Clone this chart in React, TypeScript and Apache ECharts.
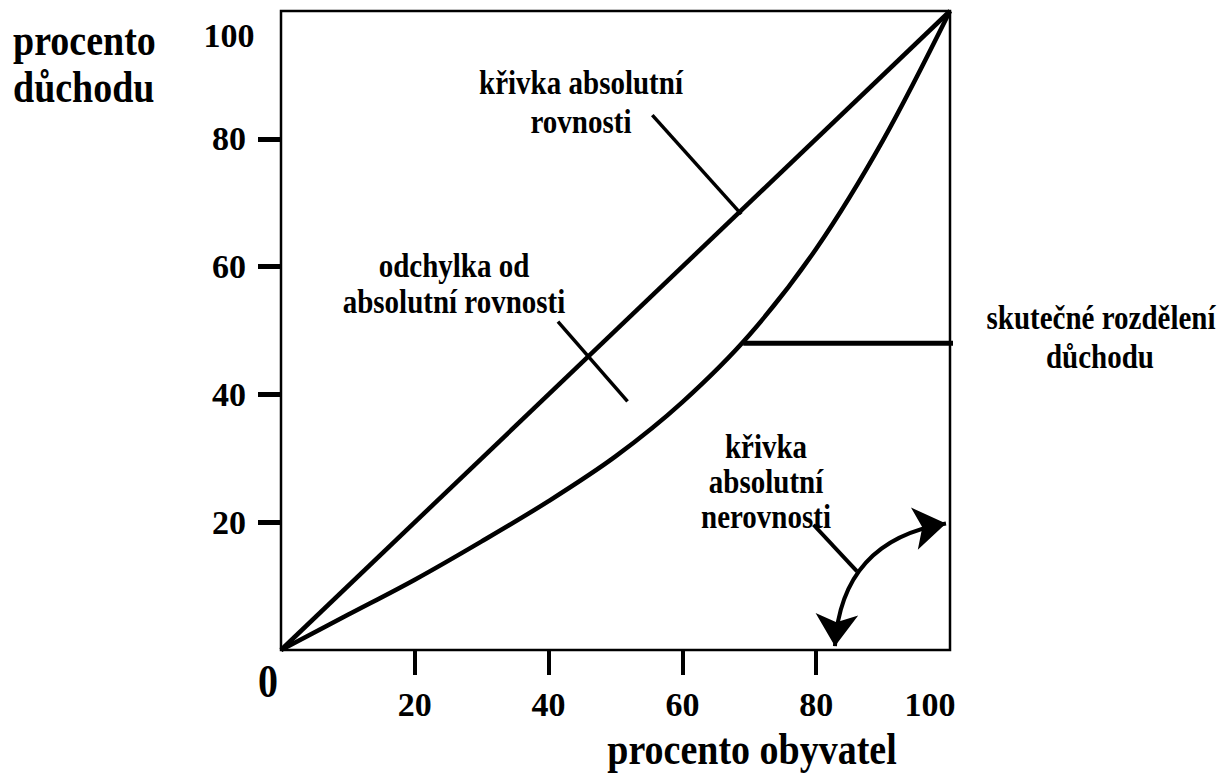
import React, { useEffect, useRef } from 'react';
import * as echarts from 'echarts';

// ---- data (percent of population vs percent of income) ----
const populationShare = [0, 10, 20, 30, 40, 50, 60, 70, 80, 90, 100];
const incomeShare = [0, 5.5, 11, 17, 23.3, 30.3, 38.8, 49.3, 62.8, 79.8, 100];
const equalityX = [0, 100];
const equalityY = [0, 100];

// ---- axis ticks / labels ----
const xTickValues = [20, 40, 60, 80];
const xLabelValues = [20, 40, 60, 80, 100];
const yTickValues = [20, 40, 60, 80];
const yLabelValues = [20, 40, 60, 80, 100];
const originLabel = '0';

// ---- titles ----
const xAxisTitle = 'procento obyvatel';
const yAxisTitleLines = ['procento', 'důchodu'];

// ---- annotation texts ----
const equalityText = ['křivka absolutní', 'rovnosti'];
const deviationText = ['odchylka od', 'absolutní rovnosti'];
const distributionText = ['skutečné rozdělení', 'důchodu'];
const inequalityText = ['křivka', 'absolutní', 'nerovnosti'];

// ---- leader lines (data coordinates) ----
const equalityLeader = [[55.5, 83.7], [68.8, 68.2]];
const deviationLeader = [[41.4, 51.4], [51.8, 38.9]];
const distributionLeader = [[69.1, 48.0], [110.5, 48.0]];
const inequalityLeader = [[79.6, 19.6], [86.1, 12.3]];
const inequalityArc = [[82.8, 0.6], [99.4, 19.8]];

const FONT = 'Liberation Serif';

export default function App() {
  const ref = useRef<HTMLDivElement>(null);

  useEffect(() => {
    if (!ref.current) return;
    const chart = echarts.init(ref.current, null, { renderer: 'svg' });

    const txt = (text: string, x: number, y: number, size: number, align = 'center') => ({
      type: 'text',
      x,
      y,
      scaleY: 1.15,
      silent: true,
      style: {
        text,
        fill: '#000',
        fontFamily: FONT,
        fontWeight: 'bold',
        fontSize: size,
        align,
        verticalAlign: 'middle',
      },
    });

    const leader = (data: number[][], width: number) => ({
      type: 'line',
      data,
      symbol: 'none',
      clip: false,
      silent: true,
      lineStyle: { color: '#000', width, cap: 'butt' },
      z: 4,
    });

    const labelRich = (shift: number[]) => ({
      shift: {
        padding: shift,
        fontSize: 34,
        fontWeight: 'bold',
        fontFamily: FONT,
        color: '#000',
      },
    });

    chart.setOption({
      animation: false,
      backgroundColor: '#fff',
      grid: {
        left: 281,
        top: 11,
        width: 669,
        height: 639,
        show: true,
        borderColor: '#000',
        borderWidth: 2.5,
        backgroundColor: 'transparent',
      },
      xAxis: {
        type: 'value',
        min: 0,
        max: 100,
        interval: 20,
        offset: 4,
        axisLine: { show: false },
        splitLine: { show: false },
        axisTick: {
          show: true,
          customValues: xTickValues,
          length: 25,
          lineStyle: { color: '#000', width: 4 },
        },
        axisLabel: {
          customValues: xLabelValues,
          margin: 33,
          color: '#000',
          fontSize: 34,
          fontWeight: 'bold',
          fontFamily: FONT,
          formatter: (v: number) => (v === 100 ? '{shift|100}' : String(v)),
          rich: labelRich([0, 40, 0, 0]),
        },
      },
      yAxis: {
        type: 'value',
        min: 0,
        max: 100,
        interval: 20,
        axisLine: { show: false },
        splitLine: { show: false },
        axisTick: {
          show: true,
          customValues: yTickValues,
          length: 23,
          lineStyle: { color: '#000', width: 5 },
        },
        axisLabel: {
          customValues: yLabelValues,
          margin: 52,
          align: 'center',
          color: '#000',
          fontSize: 34,
          fontWeight: 'bold',
          fontFamily: FONT,
          formatter: (v: number) => (v === 100 ? '{shift|100}' : String(v)),
          rich: labelRich([48, 0, 0, 0]),
        },
      },
      series: [
        {
          type: 'line',
          name: 'křivka absolutní rovnosti',
          data: equalityX.map((x, i) => [x, equalityY[i]]),
          symbol: 'none',
          silent: true,
          lineStyle: { color: '#000', width: 4.5 },
          z: 3,
        },
        {
          type: 'line',
          name: 'skutečné rozdělení důchodu',
          data: populationShare.map((x, i) => [x, incomeShare[i]]),
          symbol: 'none',
          smooth: 0.33,
          silent: true,
          lineStyle: { color: '#000', width: 4.5 },
          z: 3,
        },
        leader(equalityLeader, 3.5),
        leader(deviationLeader, 3.5),
        leader(distributionLeader, 5),
        leader(inequalityLeader, 4),
        {
          type: 'lines',
          coordinateSystem: 'cartesian2d',
          silent: true,
          symbol: ['arrow', 'arrow'],
          symbolSize: 32,
          lineStyle: { color: '#000', width: 4, curveness: 0.4, opacity: 1 },
          itemStyle: { color: '#000' },
          data: [{ coords: inequalityArc }],
          z: 5,
        },
      ],
      graphic: [
        txt(yAxisTitleLines[0], 13, 41, 38, 'left'),
        txt(yAxisTitleLines[1], 13, 88, 38, 'left'),
        txt(xAxisTitle, 752, 750, 38),
        txt(originLabel, 268, 682, 40),
        txt(equalityText[0], 581, 83, 29),
        txt(equalityText[1], 581, 122, 29),
        txt(deviationText[0], 454, 266, 29),
        txt(deviationText[1], 454, 302, 29),
        txt(distributionText[0], 1101, 318, 29),
        txt(distributionText[1], 1100, 357, 29),
        txt(inequalityText[0], 766, 447, 29),
        txt(inequalityText[1], 766, 482, 29),
        txt(inequalityText[2], 766, 517, 29),
      ],
    });

    return () => chart.dispose();
  }, []);

  return (
    <div
      ref={ref}
      style={{ position: 'fixed', left: 0, top: 0, width: 1219, height: 777, background: '#fff' }}
    />
  );
}
